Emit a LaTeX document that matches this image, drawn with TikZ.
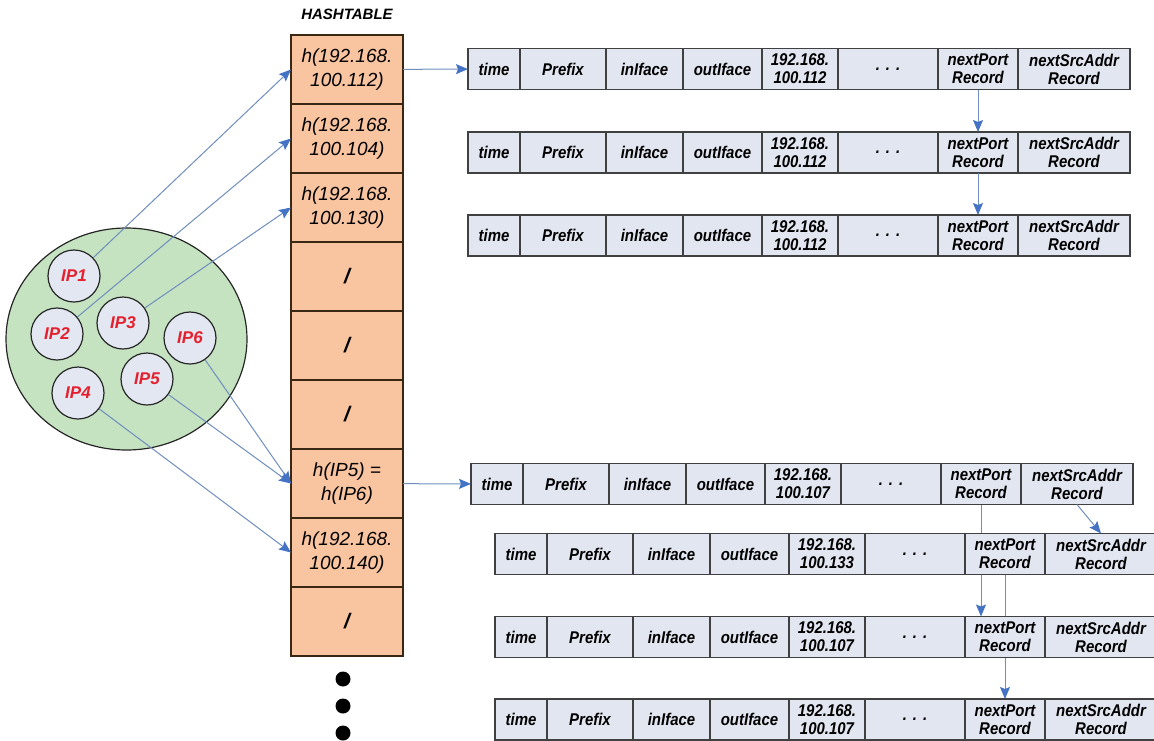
\documentclass[tikz,border=0pt]{standalone}
\usepackage{fontspec}
\setmainfont{Liberation Sans}
\newfontfamily\recfont[FakeStretch=0.88]{Liberation Sans}
\usepackage{xcolor}
\usepackage{tikz}
\usetikzlibrary{shapes.geometric, arrows.meta, positioning, backgrounds}

\definecolor{peach}{HTML}{F9C4A0}
\definecolor{recfill}{HTML}{E1E6F0}
\definecolor{poolgreen}{HTML}{C5E3C1}
\definecolor{ipfill}{HTML}{E3E7F1}
\definecolor{linkblue}{HTML}{6F8DBD}
\definecolor{tipblue}{HTML}{4472C4}
\definecolor{ipred}{HTML}{E5202E}

% one record of a chain: name, west point, address in two lines
\newcommand{\recrow}[4]{%
  \node[cell, minimum width=52pt, anchor=west] (#1t) at (#2) {time};
  \node[cell, minimum width=86pt, right=0pt of #1t] (#1p) {Prefix};
  \node[cell, minimum width=77pt, right=0pt of #1p] (#1i) {inIface};
  \node[cell, minimum width=79pt, right=0pt of #1i] (#1o) {outIface};
  \node[cell, minimum width=76pt, right=0pt of #1o] (#1a) {#3\\#4};
  \node[cell, minimum width=100pt, right=0pt of #1a] (#1d) {.\hspace{6pt}.\hspace{6pt}.};
  \node[cell, minimum width=80pt, right=0pt of #1d] (#1np) {nextPort\\Record};
  \node[cell, minimum width=112pt, right=0pt of #1np] (#1ns) {nextSrcAddr\\Record};
}

\begin{document}
\begin{tikzpicture}[
    x=1pt, y=-1pt,
    cell/.style={rectangle, draw=black!75, line width=1.1pt, fill=recfill, minimum height=41pt, inner sep=0pt, outer sep=0pt, align=center, font=\recfont\bfseries\itshape\fontsize{17}{18}\selectfont},
    hcell/.style={rectangle, draw=black!70!brown, line width=1.3pt, fill=peach, minimum width=112pt, minimum height=69pt, inner sep=0pt, outer sep=0pt, align=center, font=\itshape\fontsize{19}{24}\selectfont},
    ipnode/.style={circle, draw=black!85, line width=1.2pt, fill=ipfill, minimum size=52pt, inner sep=0pt, text=ipred, font=\bfseries\itshape\fontsize{17}{18}\selectfont},
    bigdot/.style={circle, fill=black, minimum size=15pt, inner sep=0pt},
    link/.style={-{Stealth[length=12pt, width=10pt, inset=2pt, color=tipblue]}, draw=linkblue, line width=1pt}
]
\useasboundingbox (0,0) rectangle (1154,740);

% hashtable
\node[font=\bfseries\itshape\fontsize{15}{16}\selectfont] (title) at (347,14) {HASHTABLE};
\node[hcell] (h1) at (347,69.5) {h(192.168.\\100.112)};
\node[hcell, below=0pt of h1] (h2) {h(192.168.\\100.104)};
\node[hcell, below=0pt of h2] (h3) {h(192.168.\\100.130)};
\node[hcell, below=0pt of h3, font=\bfseries\itshape\fontsize{21}{24}\selectfont] (h4) {/};
\node[hcell, below=0pt of h4, font=\bfseries\itshape\fontsize{21}{24}\selectfont] (h5) {/};
\node[hcell, below=0pt of h5, font=\bfseries\itshape\fontsize{21}{24}\selectfont] (h6) {/};
\node[hcell, below=0pt of h6] (h7) {h(IP5) =\\h(IP6)};
\node[hcell, below=0pt of h7] (h8) {h(192.168.\\100.140)};
\node[hcell, below=0pt of h8, font=\bfseries\itshape\fontsize{21}{24}\selectfont] (h9) {/};
\node[bigdot] (dot1) at (343,679) {};
\node[bigdot] (dot2) at (343,706) {};
\node[bigdot] (dot3) at (343,733) {};

% address pool
\node[ellipse, draw=black!85, line width=1.2pt, fill=poolgreen, minimum width=241pt, minimum height=222pt] (pool) at (126.5,339) {};
\node[ipnode] (ip1) at (74,276) {IP1};
\node[ipnode] (ip2) at (57,334) {IP2};
\node[ipnode] (ip3) at (123,323) {IP3};
\node[ipnode] (ip6) at (190,338) {IP6};
\node[ipnode] (ip5) at (147,379) {IP5};
\node[ipnode] (ip4) at (78,393) {IP4};

% records
\recrow{ra}{468,69}{192.168.}{100.112}
\recrow{rb}{468,152.5}{192.168.}{100.112}
\recrow{rc}{468,235.5}{192.168.}{100.112}
\recrow{rd}{471,484}{192.168.}{100.107}
\recrow{re}{495,554}{192.168.}{100.133}
\recrow{rf}{495,637}{192.168.}{100.107}
\recrow{rg}{495,719.5}{192.168.}{100.107}

% hashing
\draw[link] (ip1) -- (h1.west);
\draw[link] (ip2) -- (h2.west);
\draw[link] (ip3) -- (h3.west);
\draw[link] (ip6) -- (h7.west);
\draw[link] (ip5) -- (h7.west);
\draw[link] (ip4) -- (h8.west);

% chains
\draw[link] (h1) -- (rat);
\draw[link] (ranp) -- (rbnp);
\draw[link] (rbnp) -- (rcnp);
\draw[link] (h7) -- (rdt);
\draw[link] (rdns.south) -- (rens.north);
\begin{scope}[on background layer]
\draw[link] (rdnp.south) -- (rdnp.south |- rfnp.north);
\draw[link] (renp.south) -- (renp.south |- rgnp.north);
\end{scope}

\end{tikzpicture}
\end{document}
